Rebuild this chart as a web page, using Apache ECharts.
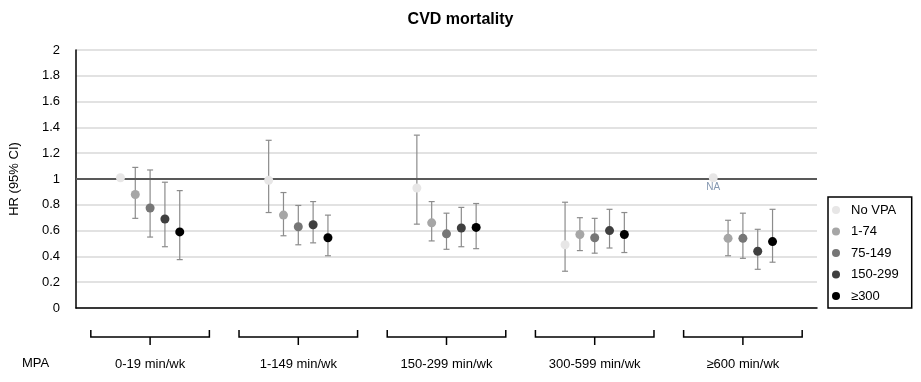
<!DOCTYPE html>
<html>
<head>
<meta charset="utf-8">
<script src="https://cdn.jsdelivr.net/npm/echarts@6/dist/echarts.min.js"></script>
<style>
html,body{margin:0;padding:0;background:#fff;}
#chart{width:921px;height:382px;}
</style>
</head>
<body>
<div id="chart"></div>
<script>
// ---- data ----
const groups = ['0-19 min/wk', '1-149 min/wk', '150-299 min/wk', '300-599 min/wk', '≥600 min/wk'];
const seriesNames = ['No VPA', '1-74', '75-149', '150-299', '≥300'];
const yTicks = [0, 0.2, 0.4, 0.6, 0.8, 1, 1.2, 1.4, 1.6, 1.8, 2];

const hrNoVPA = [1.01, 0.99, 0.93, 0.49, 1.01];
const loNoVPA = [null, 0.74, 0.65, 0.285, null];
const hiNoVPA = [null, 1.30, 1.34, 0.82, null];
const labNoVPA = ['', '', '', '', 'NA'];

const hr1to74 = [0.88, 0.72, 0.66, 0.57, 0.54];
const lo1to74 = [0.695, 0.56, 0.52, 0.445, 0.405];
const hi1to74 = [1.09, 0.895, 0.825, 0.70, 0.68];

const hr75to149 = [0.775, 0.63, 0.575, 0.545, 0.54];
const lo75to149 = [0.55, 0.49, 0.455, 0.425, 0.385];
const hi75to149 = [1.07, 0.795, 0.735, 0.695, 0.735];

const hr150to299 = [0.69, 0.645, 0.62, 0.60, 0.44];
const lo150to299 = [0.475, 0.505, 0.475, 0.465, 0.30];
const hi150to299 = [0.975, 0.825, 0.78, 0.765, 0.61];

const hr300plus = [0.59, 0.545, 0.625, 0.57, 0.515];
const lo300plus = [0.375, 0.405, 0.46, 0.43, 0.355];
const hi300plus = [0.91, 0.72, 0.81, 0.74, 0.765];

const refValue = 1;

// ---- build ----
const FONT = '"Liberation Sans", Arial, sans-serif';
const colors = ['#e7e6e6', '#a6a6a6', '#767676', '#3f3f3f', '#000000'];
const hrAll = [hrNoVPA, hr1to74, hr75to149, hr150to299, hr300plus];
const loAll = [loNoVPA, lo1to74, lo75to149, lo150to299, lo300plus];
const hiAll = [hiNoVPA, hi1to74, hi75to149, hi150to299, hi300plus];
const slot = 0.1;
const xPos = (g, k) => g + 0.5 + (k - 2) * slot;

const errData = [];
hrAll.forEach((arr, k) => {
  arr.forEach((v, g) => {
    if (loAll[k][g] != null && hiAll[k][g] != null) {
      errData.push([xPos(g, k), loAll[k][g], hiAll[k][g]]);
    }
  });
});

const scatterSeries = seriesNames.map((name, k) => ({
  name: name,
  type: 'scatter',
  symbol: 'circle',
  symbolSize: 9,
  z: 5,
  itemStyle: { color: colors[k], opacity: 1 },
  data: hrAll[k].map((v, g) => {
    const item = { value: [xPos(g, k), v] };
    if (k === 0 && labNoVPA[g]) {
      item.label = {
        show: true, formatter: labNoVPA[g], position: 'bottom', distance: 0,
        color: '#8497b0', fontSize: 10, fontFamily: FONT
      };
    }
    return item;
  })
}));

const chart = echarts.init(document.getElementById('chart'));
chart.setOption({
  backgroundColor: '#ffffff',
  animation: false,
  title: {
    text: 'CVD mortality',
    left: 'center',
    top: 7,
    textStyle: { fontFamily: FONT, fontSize: 16, fontWeight: 'bold', color: '#000' }
  },
  legend: {
    orient: 'vertical',
    left: 828,
    top: 197,
    data: seriesNames,
    icon: 'circle',
    itemWidth: 8,
    itemHeight: 8,
    itemGap: 5.5,
    padding: [5, 13, 4, 4],
    borderColor: '#000',
    borderWidth: 1.5,
    textStyle: { fontFamily: FONT, fontSize: 13, color: '#000', padding: [0, 0, 0, 6], lineHeight: 16 }
  },
  grid: { left: 73, right: 104, top: 50, bottom: 74, containLabel: false },
  xAxis: {
    type: 'value',
    min: 0,
    max: groups.length,
    axisLine: { show: true, lineStyle: { color: '#000', width: 1.5 } },
    axisTick: { show: false },
    axisLabel: { show: false },
    splitLine: { show: false }
  },
  yAxis: {
    type: 'value',
    min: yTicks[0],
    max: yTicks[yTicks.length - 1],
    interval: 0.2,
    name: 'HR (95% CI)',
    nameLocation: 'middle',
    nameGap: 55,
    nameTextStyle: { fontFamily: FONT, fontSize: 13, color: '#000' },
    axisLine: { show: true, lineStyle: { color: '#000', width: 1.5 } },
    axisTick: { show: false },
    axisLabel: {
      margin: 16, fontFamily: FONT, fontSize: 13, color: '#000',
      formatter: v => String(Math.round(v * 10) / 10)
    },
    splitLine: { show: true, lineStyle: { color: '#d9d9d9', width: 1.5 } }
  },
  graphic: [{
    type: 'text',
    left: 22,
    top: 357,
    style: { text: 'MPA', fontFamily: FONT, fontSize: 13, fill: '#000' }
  }],
  series: [
    {
      name: 'ref',
      type: 'line',
      data: [],
      z: 2,
      silent: true,
      markLine: {
        silent: true,
        symbol: 'none',
        label: { show: false },
        lineStyle: { color: '#595959', width: 2, type: 'solid' },
        data: [{ yAxis: refValue }]
      }
    },
    {
      name: 'ci',
      type: 'custom',
      z: 3,
      silent: true,
      data: errData,
      renderItem: function (params, api) {
        const x = api.value(0);
        const pLo = api.coord([x, api.value(1)]);
        const pHi = api.coord([x, api.value(2)]);
        const cap = 3;
        const st = { stroke: '#8c8c8c', lineWidth: 1.2 };
        return {
          type: 'group',
          children: [
            { type: 'line', shape: { x1: pLo[0], y1: pLo[1], x2: pHi[0], y2: pHi[1] }, style: st },
            { type: 'line', shape: { x1: pHi[0] - cap, y1: pHi[1], x2: pHi[0] + cap, y2: pHi[1] }, style: st },
            { type: 'line', shape: { x1: pLo[0] - cap, y1: pLo[1], x2: pLo[0] + cap, y2: pLo[1] }, style: st }
          ]
        };
      }
    },
    {
      name: 'brackets',
      type: 'custom',
      silent: true,
      clip: false,
      z: 1,
      data: groups.map((gname, g) => [g + 0.5, g]),
      renderItem: function (params, api) {
        const x = api.value(0);
        const g = api.value(1);
        const c = api.coord([x, 0]);
        const l = api.coord([x - 0.4, 0]);
        const r = api.coord([x + 0.4, 0]);
        const y0 = c[1];
        const st = { stroke: '#000', lineWidth: 1.5, fill: null };
        return {
          type: 'group',
          children: [
            { type: 'polyline', shape: { points: [[l[0], y0 + 22], [l[0], y0 + 29], [r[0], y0 + 29], [r[0], y0 + 22]] }, style: st },
            { type: 'line', shape: { x1: c[0], y1: y0 + 29, x2: c[0], y2: y0 + 37 }, style: st },
            {
              type: 'text',
              x: c[0], y: y0 + 56,
              style: {
                text: groups[g], fontFamily: FONT, fontSize: 13, fill: '#000',
                textAlign: 'center', textVerticalAlign: 'middle'
              }
            }
          ]
        };
      }
    }
  ].concat(scatterSeries)
});
</script>
</body>
</html>
